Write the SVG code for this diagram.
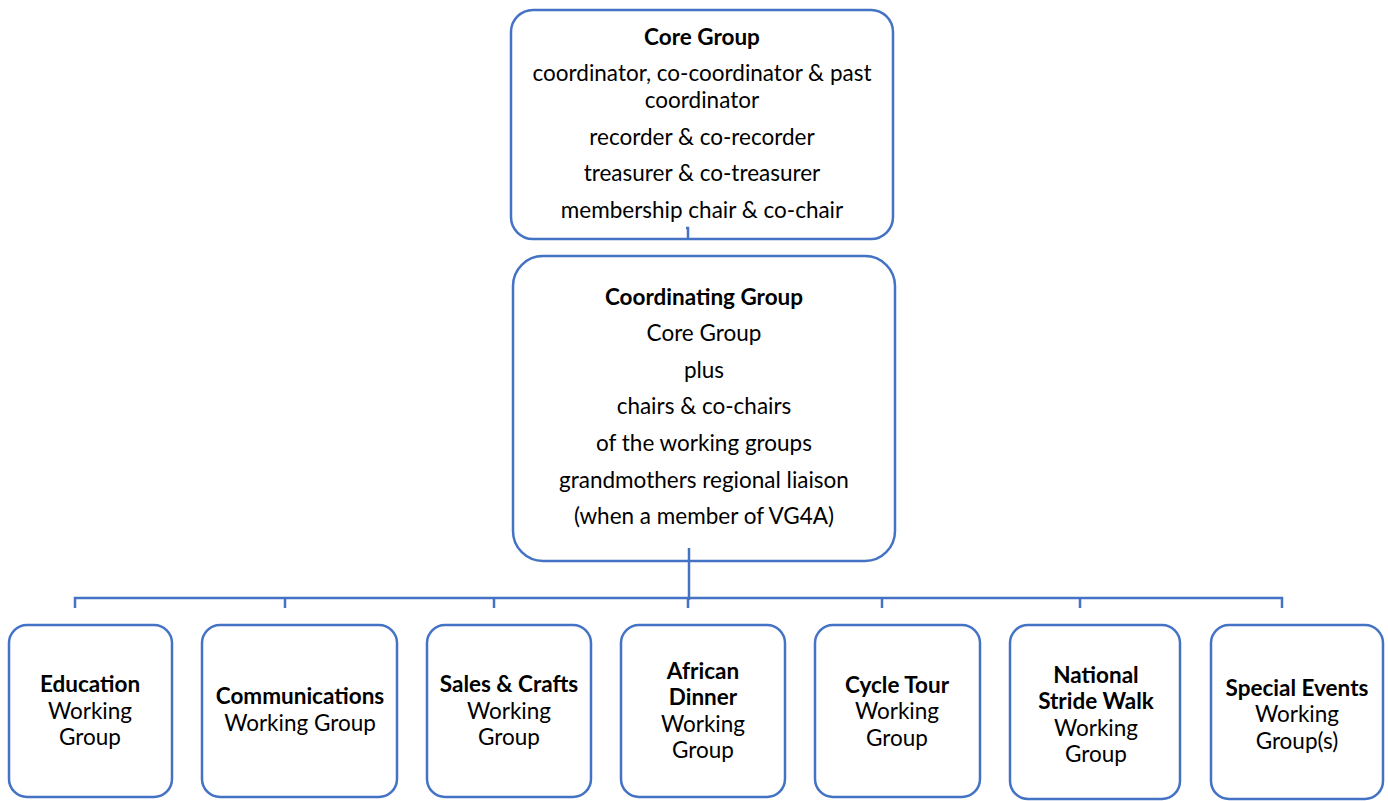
<svg xmlns="http://www.w3.org/2000/svg" width="1388" height="801" viewBox="0 0 1388 801">
<style>
.box{fill:#fff;stroke:#4472C4;stroke-width:2.5}
.ln{fill:none;stroke:#4472C4;stroke-width:2.5}
text{font-family:Lato,"Open Sans",sans-serif;font-size:22.5px;fill:#000;text-anchor:middle}
.b{font-weight:bold}
</style>
<rect width="1388" height="801" fill="#fff"/>
<g id="core">
<rect class="box" x="511" y="10" width="382" height="229" rx="22"/>
<text class="b" x="702" y="45">Core Group</text>
<text x="702" y="81">coordinator, co-coordinator &amp; past</text>
<text x="702" y="108">coordinator</text>
<text x="702" y="145">recorder &amp; co-recorder</text>
<text x="702" y="181">treasurer &amp; co-treasurer</text>
<text x="702" y="218">membership chair &amp; co-chair</text>
</g>
<g id="coordinating">
<rect class="box" x="513" y="256" width="382" height="305" rx="30"/>
<text class="b" x="704" y="305">Coordinating Group</text>
<text x="704" y="341">Core Group</text>
<text x="704" y="378">plus</text>
<text x="704" y="414">chairs &amp; co-chairs</text>
<text x="704" y="451">of the working groups</text>
<text x="704" y="488">grandmothers regional liaison</text>
<text x="704" y="524">(when a member of VG4A)</text>
</g>
<g id="education">
<rect class="box" x="9" y="625" width="163" height="172" rx="18"/>
<text class="b" x="90" y="692">Education</text>
<text x="90" y="719">Working</text>
<text x="90" y="745">Group</text>
</g>
<g id="communications">
<rect class="box" x="202" y="625" width="195" height="172" rx="18"/>
<text class="b" x="300" y="704">Communications</text>
<text x="300" y="731">Working Group</text>
</g>
<g id="sales">
<rect class="box" x="427" y="625" width="164" height="172" rx="18"/>
<text class="b" x="509" y="692">Sales &amp; Crafts</text>
<text x="509" y="719">Working</text>
<text x="509" y="745">Group</text>
</g>
<g id="african">
<rect class="box" x="621" y="625" width="164" height="172" rx="18"/>
<text class="b" x="703" y="679">African</text>
<text class="b" x="703" y="705">Dinner</text>
<text x="703" y="732">Working</text>
<text x="703" y="758">Group</text>
</g>
<g id="cycle">
<rect class="box" x="815" y="625" width="165" height="172" rx="18"/>
<text class="b" x="897" y="693">Cycle Tour</text>
<text x="897" y="719">Working</text>
<text x="897" y="746">Group</text>
</g>
<g id="national">
<rect class="box" x="1010" y="625" width="170" height="174" rx="18"/>
<text class="b" x="1096" y="683">National</text>
<text class="b" x="1096" y="709">Stride Walk</text>
<text x="1096" y="736">Working</text>
<text x="1096" y="762">Group</text>
</g>
<g id="special">
<rect class="box" x="1211" y="625" width="172" height="174" rx="18"/>
<text class="b" x="1297" y="696">Special Events</text>
<text x="1297" y="722">Working</text>
<text x="1297" y="749">Group(s)</text>
</g>
<g id="connectors">
<path class="ln" d="M686 228H688V238"/>
<path class="ln" d="M689 548V600"/>
<path class="ln" d="M75 608V598H1282V608"/>
<path class="ln" d="M285 598V608M494 598V608M688 598V608M882 598V608M1080 598V608"/>
</g>
</svg>
